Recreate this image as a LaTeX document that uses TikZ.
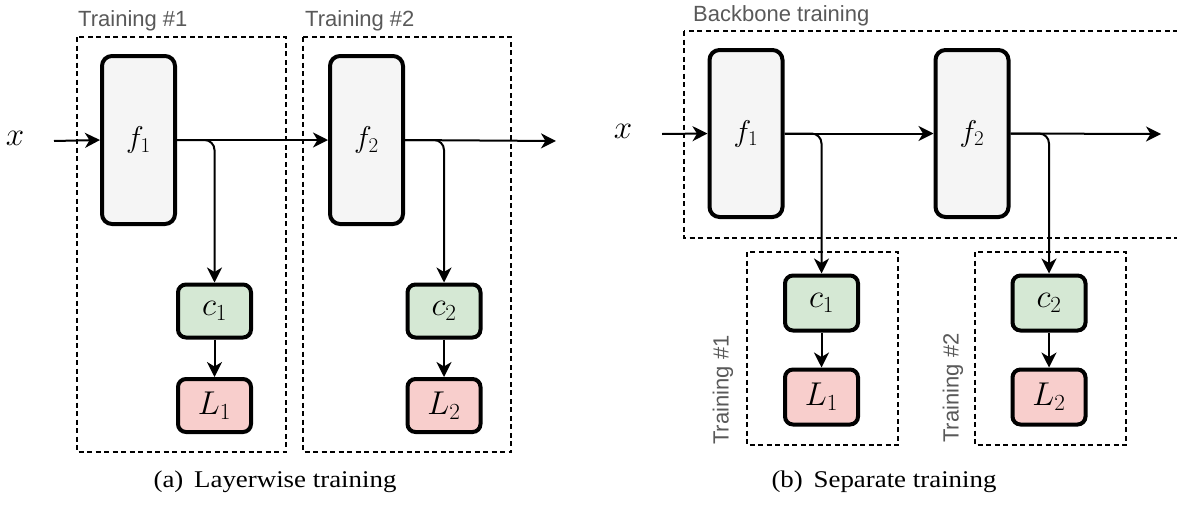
\RequirePackage{fix-cm}
\documentclass[tikz,border=0pt]{standalone}
\usepackage{fontspec}
\newfontfamily\labfont{Liberation Sans}
\newfontfamily\capfont[FakeStretch=1.12]{Liberation Serif}
\usetikzlibrary{arrows.meta}
\definecolor{fgray}{HTML}{F5F5F5}
\definecolor{cgreen}{HTML}{D5E8D4}
\definecolor{lred}{HTML}{F8CECC}
\definecolor{labgray}{HTML}{595959}
\tikzset{
 fbox/.style={draw, line width=4pt, fill=fgray, rounded corners=10pt, minimum width=73pt, minimum height=168pt, inner sep=0pt, font=\fontsize{30}{36}\selectfont},
 cbox/.style={draw, line width=4pt, fill=cgreen, rounded corners=8pt, minimum width=73pt, minimum height=53pt, inner sep=0pt, font=\fontsize{33}{40}\selectfont},
 lbox/.style={cbox, fill=lred},
 dbox/.style={draw, line width=1.5pt, dash pattern=on 5pt off 3.5pt},
 conn/.style={line width=2pt, -{Stealth[length=15pt,width=15pt,inset=4.5pt]}},
 branch/.style={conn, rounded corners=10pt},
 grp/.style={text=labgray, font=\labfont\fontsize{22}{26}\selectfont, inner sep=0pt},
 captext/.style={font=\capfont\fontsize{24}{28}\selectfont, inner sep=0pt},
 varlabel/.style={font=\fontsize{33}{40}\selectfont, inner sep=0pt}
}
\begin{document}
\begin{tikzpicture}[x=1pt,y=-1pt]
\useasboundingbox (0,0) rectangle (1177,504);
% ---------------- (a) Layerwise training ----------------
\draw[dbox] (77,37) rectangle (286,452);
\draw[dbox] (303,37) rectangle (511,452);
\node[grp, anchor=base west] (ta1) at (78,26) {Training \#1};
\node[grp, anchor=base west] (ta2) at (305,26) {Training \#2};
\node[varlabel] (xa) at (15,138) {$x$};
\coordinate (ina) at (54,141);
\coordinate (outa) at (556,141);
\node[fbox] (fa1) at (138.5,140) {$f_1$};
\node[fbox] (fa2) at (366.5,140) {$f_2$};
\node[cbox] (ca1) at (214.5,311) {$c_1$};
\node[lbox] (la1) at (214.5,405.5) {$L_1$};
\node[cbox] (ca2) at (444,311) {$c_2$};
\node[lbox] (la2) at (444,405.5) {$L_2$};
\draw[conn] (ina) -- (fa1.west);
\draw[conn] (fa1.east) -- (fa2.west);
\draw[conn] (fa2.east) -- (outa);
\draw[branch] (fa1.east) -| (ca1.north);
\draw[branch] (fa2.east) -| (ca2.north);
\draw[conn] (ca1.south) -- (la1.north);
\draw[conn] (ca2.south) -- (la2.north);
\node[captext] (capa) at (275,482) {(a)\hspace{0.45em}Layerwise training};
% ---------------- (b) Separate training ----------------
\draw[dbox] (684,31) rectangle (1200,238);
\draw[dbox] (747,252) rectangle (898,445);
\draw[dbox] (975,252) rectangle (1126,445);
\node[grp, anchor=base west] (tbb) at (693,21) {Backbone training};
\node[grp, rotate=90] (tb1) at (723,390) {Training \#1};
\node[grp, rotate=90] (tb2) at (953,388) {Training \#2};
\node[varlabel] (xb) at (623,131) {$x$};
\coordinate (inb) at (662,134);
\coordinate (outb) at (1161,134);
\node[fbox, minimum height=167pt] (fb1) at (746,133.5) {$f_1$};
\node[fbox, minimum height=167pt] (fb2) at (972,133.5) {$f_2$};
\node[cbox, minimum height=55pt] (cb1) at (821.5,303) {$c_1$};
\node[lbox, minimum height=55pt] (lb1) at (821.5,397) {$L_1$};
\node[cbox, minimum height=55pt] (cb2) at (1049,303) {$c_2$};
\node[lbox, minimum height=55pt] (lb2) at (1049,397) {$L_2$};
\draw[conn] (inb) -- (fb1.west);
\draw[conn] (fb1.east) -- (fb2.west);
\draw[conn] (fb2.east) -- (outb);
\draw[branch] (fb1.east) -| (cb1.north);
\draw[branch] (fb2.east) -| (cb2.north);
\draw[conn] (cb1.south) -- (lb1.north);
\draw[conn] (cb2.south) -- (lb2.north);
\node[captext] (capb) at (884,482) {(b)\hspace{0.45em}Separate training};
\end{tikzpicture}
\end{document}
